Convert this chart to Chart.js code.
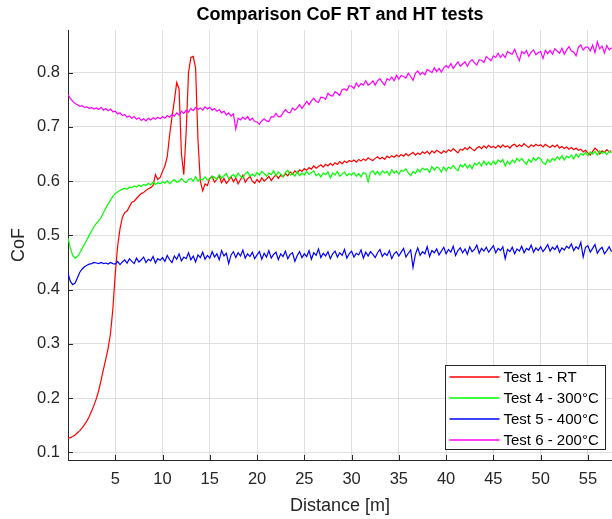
<!DOCTYPE html>
<html>
<head>
<meta charset="utf-8">
<title>Comparison CoF RT and HT tests</title>
<script src="https://cdn.jsdelivr.net/npm/chart.js@4"></script>
<style>
  html, body { margin: 0; padding: 0; background: #fff; }
  #wrap { width: 612px; height: 519px; }
</style>
</head>
<body>
<div id="wrap"><canvas id="cofChart" width="612" height="519"></canvas></div>
<script>
// sampling positions [m], 0.25 m step
const distance = [
  0,0.25,0.5,0.75,1,1.25,1.5,1.75,2,2.25,2.5,2.75,3,3.25,3.5,3.75,4,4.25,4.5,4.75,
  5,5.25,5.5,5.75,6,6.25,6.5,6.75,7,7.25,7.5,7.75,8,8.25,8.5,8.75,9,9.25,9.5,9.75,
  10,10.25,10.5,10.75,11,11.25,11.5,11.75,12,12.25,12.5,12.75,13,13.25,13.5,13.75,14,14.25,14.5,14.75,
  15,15.25,15.5,15.75,16,16.25,16.5,16.75,17,17.25,17.5,17.75,18,18.25,18.5,18.75,19,19.25,19.5,19.75,
  20,20.25,20.5,20.75,21,21.25,21.5,21.75,22,22.25,22.5,22.75,23,23.25,23.5,23.75,24,24.25,24.5,24.75,
  25,25.25,25.5,25.75,26,26.25,26.5,26.75,27,27.25,27.5,27.75,28,28.25,28.5,28.75,29,29.25,29.5,29.75,
  30,30.25,30.5,30.75,31,31.25,31.5,31.75,32,32.25,32.5,32.75,33,33.25,33.5,33.75,34,34.25,34.5,34.75,
  35,35.25,35.5,35.75,36,36.25,36.5,36.75,37,37.25,37.5,37.75,38,38.25,38.5,38.75,39,39.25,39.5,39.75,
  40,40.25,40.5,40.75,41,41.25,41.5,41.75,42,42.25,42.5,42.75,43,43.25,43.5,43.75,44,44.25,44.5,44.75,
  45,45.25,45.5,45.75,46,46.25,46.5,46.75,47,47.25,47.5,47.75,48,48.25,48.5,48.75,49,49.25,49.5,49.75,
  50,50.25,50.5,50.75,51,51.25,51.5,51.75,52,52.25,52.5,52.75,53,53.25,53.5,53.75,54,54.25,54.5,54.75,
  55,55.25,55.5,55.75,56,56.25,56.5,56.75,57,57.25,57.5
];

// Test 1 - RT
const cofTest1 = [
  0.126,0.127,0.129,0.132,0.136,0.140,0.145,0.151,0.158,0.166,0.176,0.187,0.199,0.214,0.233,0.253,0.272,0.292,0.320,0.365,
  0.430,0.480,0.512,0.533,0.542,0.545,0.553,0.561,0.563,0.568,0.573,0.577,0.579,0.583,0.586,0.588,0.592,0.612,0.603,0.607,
  0.618,0.628,0.645,0.685,0.718,0.748,0.782,0.770,0.650,0.612,0.690,0.800,0.828,0.830,0.808,0.676,0.600,0.582,0.595,0.592,
  0.605,0.609,0.598,0.603,0.610,0.597,0.605,0.596,0.601,0.608,0.599,0.606,0.595,0.603,0.611,0.598,0.604,0.609,0.600,0.596,
  0.603,0.598,0.606,0.600,0.604,0.609,0.601,0.607,0.612,0.605,0.611,0.608,0.614,0.610,0.617,0.613,0.619,0.615,0.621,0.618,
  0.623,0.620,0.625,0.622,0.628,0.624,0.627,0.630,0.626,0.631,0.628,0.633,0.629,0.634,0.631,0.636,0.632,0.637,0.634,0.638,
  0.636,0.639,0.635,0.640,0.637,0.641,0.638,0.643,0.640,0.638,0.642,0.645,0.641,0.644,0.640,0.646,0.643,0.647,0.644,0.648,
  0.645,0.649,0.646,0.651,0.647,0.650,0.653,0.648,0.652,0.649,0.654,0.651,0.655,0.650,0.656,0.652,0.657,0.654,0.651,0.656,
  0.653,0.658,0.655,0.660,0.656,0.652,0.659,0.657,0.662,0.658,0.663,0.659,0.656,0.661,0.664,0.660,0.665,0.661,0.666,0.662,
  0.664,0.661,0.666,0.662,0.667,0.663,0.665,0.661,0.666,0.668,0.663,0.667,0.664,0.669,0.665,0.662,0.667,0.664,0.668,0.665,
  0.667,0.663,0.668,0.665,0.662,0.666,0.663,0.667,0.661,0.664,0.660,0.663,0.659,0.662,0.658,0.661,0.657,0.659,0.654,0.657,
  0.652,0.648,0.655,0.661,0.657,0.650,0.656,0.653,0.658,0.654,0.656
];

// Test 4 - 300°C
const cofTest4 = [
  0.495,0.476,0.463,0.458,0.461,0.468,0.476,0.484,0.492,0.500,0.508,0.516,0.522,0.527,0.533,0.542,0.550,0.558,0.565,0.572,
  0.577,0.580,0.583,0.585,0.587,0.585,0.589,0.588,0.591,0.589,0.593,0.590,0.594,0.592,0.596,0.593,0.598,0.594,0.597,0.595,
  0.599,0.596,0.601,0.595,0.600,0.603,0.598,0.600,0.605,0.600,0.597,0.603,0.605,0.600,0.608,0.600,0.604,0.602,0.608,0.602,
  0.604,0.609,0.607,0.603,0.612,0.605,0.610,0.614,0.604,0.609,0.612,0.607,0.615,0.609,0.606,0.614,0.617,0.609,0.613,0.609,
  0.616,0.611,0.618,0.614,0.609,0.615,0.612,0.619,0.610,0.617,0.613,0.608,0.616,0.620,0.611,0.614,0.609,0.618,0.610,0.615,
  0.611,0.618,0.612,0.616,0.619,0.610,0.614,0.608,0.615,0.612,0.617,0.606,0.615,0.611,0.618,0.609,0.613,0.617,0.610,0.614,
  0.611,0.616,0.609,0.614,0.608,0.616,0.614,0.599,0.616,0.619,0.612,0.618,0.611,0.619,0.615,0.618,0.611,0.621,0.615,0.619,
  0.613,0.620,0.618,0.623,0.615,0.610,0.618,0.614,0.622,0.617,0.624,0.621,0.623,0.616,0.627,0.620,0.626,0.624,0.617,0.626,
  0.619,0.626,0.623,0.629,0.623,0.619,0.630,0.626,0.632,0.624,0.630,0.623,0.633,0.630,0.635,0.628,0.637,0.630,0.635,0.630,
  0.637,0.631,0.639,0.635,0.640,0.628,0.637,0.631,0.639,0.634,0.642,0.637,0.642,0.636,0.631,0.640,0.635,0.643,0.638,0.644,
  0.641,0.634,0.631,0.640,0.635,0.642,0.638,0.645,0.640,0.647,0.639,0.646,0.643,0.648,0.641,0.650,0.644,0.651,0.648,0.653,
  0.647,0.654,0.650,0.655,0.648,0.656,0.651,0.654,0.649,0.655,0.652
];

// Test 5 - 400°C
const cofTest5 = [
  0.430,0.415,0.409,0.412,0.422,0.432,0.438,0.442,0.445,0.447,0.448,0.450,0.449,0.448,0.450,0.448,0.449,0.447,0.450,0.448,
  0.447,0.452,0.446,0.451,0.455,0.449,0.457,0.452,0.448,0.458,0.451,0.455,0.460,0.450,0.456,0.453,0.461,0.449,0.457,0.454,
  0.459,0.452,0.463,0.455,0.450,0.462,0.456,0.466,0.453,0.460,0.457,0.468,0.455,0.462,0.451,0.464,0.459,0.469,0.456,0.463,
  0.458,0.470,0.460,0.466,0.455,0.472,0.462,0.467,0.448,0.464,0.470,0.459,0.468,0.462,0.473,0.458,0.466,0.461,0.469,0.457,
  0.464,0.470,0.456,0.467,0.460,0.472,0.458,0.465,0.469,0.455,0.466,0.461,0.471,0.457,0.465,0.468,0.452,0.463,0.470,0.459,
  0.466,0.461,0.472,0.456,0.468,0.463,0.475,0.459,0.467,0.462,0.470,0.457,0.466,0.471,0.460,0.468,0.463,0.474,0.458,0.466,
  0.471,0.460,0.467,0.464,0.473,0.458,0.469,0.462,0.470,0.465,0.459,0.468,0.474,0.461,0.467,0.463,0.472,0.457,0.466,0.470,
  0.462,0.469,0.476,0.460,0.467,0.473,0.441,0.465,0.477,0.463,0.470,0.466,0.479,0.461,0.472,0.468,0.475,0.464,0.471,0.478,
  0.466,0.474,0.469,0.480,0.463,0.472,0.477,0.468,0.475,0.465,0.479,0.470,0.474,0.482,0.467,0.476,0.471,0.478,0.469,0.475,
  0.481,0.468,0.476,0.472,0.479,0.457,0.474,0.470,0.478,0.466,0.475,0.471,0.480,0.468,0.476,0.473,0.482,0.469,0.477,0.472,
  0.479,0.470,0.476,0.483,0.471,0.478,0.474,0.481,0.469,0.477,0.473,0.480,0.476,0.484,0.472,0.479,0.475,0.487,0.460,0.478,
  0.481,0.469,0.476,0.483,0.467,0.474,0.478,0.466,0.472,0.479,0.470
];

// Test 6 - 200°C
const cofTest6 = [
  0.760,0.752,0.747,0.743,0.741,0.738,0.739,0.736,0.737,0.734,0.736,0.733,0.735,0.732,0.736,0.731,0.734,0.730,0.733,0.728,
  0.729,0.724,0.726,0.721,0.723,0.718,0.720,0.716,0.719,0.714,0.717,0.712,0.715,0.711,0.716,0.713,0.717,0.714,0.718,0.715,
  0.719,0.716,0.721,0.718,0.723,0.720,0.726,0.722,0.729,0.725,0.731,0.727,0.734,0.730,0.736,0.732,0.735,0.731,0.737,0.733,
  0.736,0.731,0.734,0.729,0.732,0.726,0.729,0.722,0.726,0.720,0.724,0.696,0.716,0.713,0.718,0.714,0.719,0.712,0.716,0.710,
  0.709,0.705,0.711,0.715,0.711,0.710,0.719,0.718,0.725,0.719,0.719,0.726,0.732,0.727,0.726,0.735,0.731,0.735,0.741,0.734,
  0.740,0.747,0.741,0.748,0.753,0.747,0.745,0.755,0.754,0.751,0.762,0.758,0.757,0.765,0.762,0.758,0.769,0.770,0.767,0.776,
  0.775,0.771,0.781,0.774,0.780,0.777,0.785,0.777,0.780,0.785,0.777,0.785,0.789,0.782,0.777,0.789,0.786,0.792,0.785,0.795,
  0.788,0.795,0.793,0.790,0.799,0.793,0.786,0.799,0.803,0.796,0.801,0.796,0.806,0.803,0.800,0.809,0.802,0.808,0.801,0.809,
  0.813,0.809,0.817,0.808,0.814,0.820,0.812,0.816,0.820,0.812,0.820,0.824,0.818,0.814,0.824,0.823,0.819,0.830,0.826,0.822,
  0.831,0.828,0.836,0.828,0.834,0.828,0.839,0.836,0.834,0.843,0.832,0.822,0.839,0.835,0.841,0.830,0.838,0.842,0.833,0.837,
  0.839,0.826,0.841,0.835,0.841,0.834,0.844,0.840,0.836,0.845,0.834,0.842,0.848,0.840,0.838,0.831,0.847,0.851,0.842,0.847,
  0.847,0.840,0.851,0.837,0.857,0.844,0.849,0.836,0.850,0.842,0.846
];

const seriesLabels = ["Test 1 - RT", "Test 4 - 300°C", "Test 5 - 400°C", "Test 6 - 200°C"];
const seriesColors = ["#ff0000", "#00ff00", "#0000ff", "#ff00ff"];
const xTicks = [5, 10, 15, 20, 25, 30, 35, 40, 45, 50, 55];
const yTicks = [0.1, 0.2, 0.3, 0.4, 0.5, 0.6, 0.7, 0.8];

const axisColor = "#262626";
const gridColor = "#dfdfdf";
Chart.defaults.font.family = "'Liberation Sans', Arial, Helvetica, sans-serif";

function toPoints(values) {
  return distance.map((d, i) => ({ x: d, y: values[i] }));
}

// MATLAB style: small tick marks pointing into the axes
const innerTicks = {
  id: "innerTicks",
  afterDatasetsDraw(chart) {
    const { ctx, chartArea: a, scales: { x, y } } = chart;
    ctx.save();
    ctx.strokeStyle = axisColor;
    ctx.lineWidth = 1;
    ctx.beginPath();
    xTicks.forEach(v => {
      const px = Math.round(x.getPixelForValue(v)) + 0.5;
      ctx.moveTo(px, a.bottom);
      ctx.lineTo(px, a.bottom - 5);
    });
    yTicks.forEach(v => {
      const py = Math.round(y.getPixelForValue(v)) + 0.5;
      ctx.moveTo(a.left, py);
      ctx.lineTo(a.left + 5, py);
    });
    ctx.stroke();
    ctx.restore();
  }
};

// legend box in the lower right corner of the axes
const boxLegend = {
  id: "boxLegend",
  afterDraw(chart) {
    const { ctx, chartArea: a } = chart;
    const w = 160, h = 84;
    const bx = Math.round(a.right - 167) + 0.5;
    const by = Math.round(a.bottom - 95) + 0.5;
    ctx.save();
    ctx.fillStyle = "#fff";
    ctx.fillRect(bx, by, w, h);
    ctx.strokeStyle = axisColor;
    ctx.lineWidth = 1;
    ctx.strokeRect(bx, by, w, h);
    ctx.font = "15px 'Liberation Sans', Arial, sans-serif";
    ctx.textBaseline = "middle";
    ctx.textAlign = "left";
    seriesLabels.forEach((label, i) => {
      const ry = Math.round(by + 11.5 + i * 21);
      ctx.strokeStyle = seriesColors[i];
      ctx.lineWidth = 1.5;
      ctx.beginPath();
      ctx.moveTo(bx + 4, ry);
      ctx.lineTo(bx + 54, ry);
      ctx.stroke();
      ctx.fillStyle = "#000";
      ctx.fillText(label, bx + 58, ry + 1);
    });
    ctx.restore();
  }
};

const seriesData = [cofTest1, cofTest4, cofTest5, cofTest6];

new Chart("cofChart", {
  type: "line",
  data: {
    datasets: seriesData.map((vals, i) => ({
      label: seriesLabels[i],
      data: toPoints(vals),
      borderColor: seriesColors[i],
      backgroundColor: seriesColors[i],
      borderWidth: 1.2,
      pointRadius: 0,
      fill: false,
      tension: 0,
      order: 3 - i
    }))
  },
  options: {
    responsive: false,
    animation: false,
    layout: { padding: 0 },
    plugins: {
      legend: { display: false },
      tooltip: { enabled: false },
      title: {
        display: true,
        fullSize: false,
        text: "Comparison CoF RT and HT tests",
        color: "#000",
        font: { size: 18, weight: "bold", lineHeight: 1.2 },
        padding: { top: 4, bottom: 4.4 }
      }
    },
    scales: {
      x: {
        type: "linear",
        min: 0,
        max: 57.55,
        afterBuildTicks: axis => { axis.ticks = xTicks.map(v => ({ value: v })); },
        afterFit: axis => { axis.height = 59; },
        ticks: {
          color: axisColor,
          font: { size: 16.5, lineHeight: 1.2 },
          padding: 10,
          maxRotation: 0,
          autoSkip: false,
          callback: v => String(v)
        },
        grid: { color: gridColor, lineWidth: 1, drawTicks: false },
        border: { display: true, color: axisColor, width: 1 },
        title: {
          display: true,
          text: "Distance [m]",
          color: axisColor,
          font: { size: 18, lineHeight: 1.2 },
          padding: { top: 0, bottom: 2 }
        }
      },
      y: {
        type: "linear",
        min: 0.0858,
        max: 0.8787,
        afterBuildTicks: axis => { axis.ticks = yTicks.map(v => ({ value: v })); },
        afterFit: axis => { axis.width = 68; },
        ticks: {
          color: axisColor,
          font: { size: 16.5, lineHeight: 1.2 },
          padding: 8,
          autoSkip: false,
          callback: v => String(v)
        },
        grid: { color: gridColor, lineWidth: 1, drawTicks: false },
        border: { display: true, color: axisColor, width: 1 },
        title: {
          display: true,
          text: "CoF",
          color: axisColor,
          font: { size: 18, lineHeight: 1.2 },
          padding: { top: 8, bottom: 0 }
        }
      }
    }
  },
  plugins: [innerTicks, boxLegend]
});
</script>
</body>
</html>
